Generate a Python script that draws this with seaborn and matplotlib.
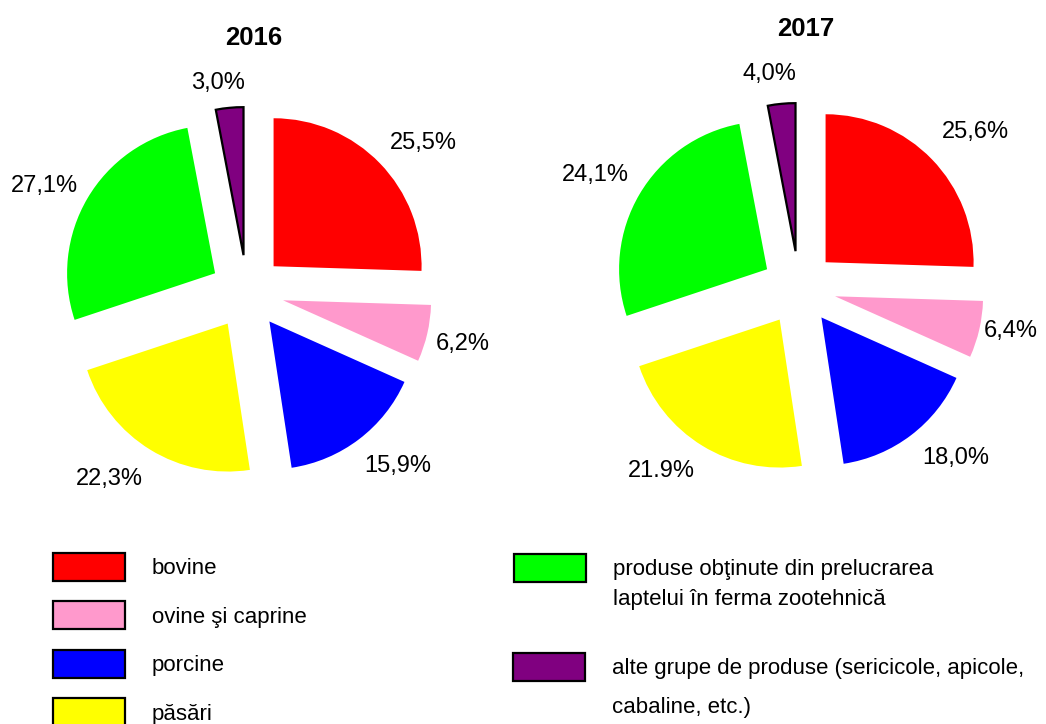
import numpy as np
import matplotlib
matplotlib.use("Agg")
import matplotlib.pyplot as plt
import seaborn as sns
from matplotlib.patches import Patch

# =========================
# Data
# =========================
categories = ["bovine", "ovine şi caprine", "porcine", "păsări",
              "produse obţinute din prelucrarea laptelui în ferma zootehnică",
              "alte grupe de produse (sericicole, apicole, cabaline, etc.)"]
values_2016 = [25.5, 6.2, 15.9, 22.3, 27.1, 3.0]
values_2017 = [25.6, 6.4, 18.0, 21.9, 24.1, 4.0]
labels_2016 = ["25,5%", "6,2%", "15,9%", "22,3%", "27,1%", "3,0%"]
labels_2017 = ["25,6%", "6,4%", "18,0%", "21.9%", "24,1%", "4,0%"]
years = ["2016", "2017"]

# wedge sizes as drawn in the 2017 pie of the original (read off the picture:
# the original reuses the 2016 shares for the slice geometry)
wedges_2017 = [25.5, 6.2, 15.9, 22.3, 27.1, 3.0]

colors = ["#FF0000", "#FF99CC", "#0000FF", "#FFFF00", "#00FF00", "#800080"]

# small label nudges (radius units), to follow the original placement
nudge_2016 = [(0.09, -0.06), (-0.03, -0.01), (0.09, 0.04), (-0.13, 0.04), (-0.05, -0.06), (-0.05, -0.11)]
nudge_2017 = [(0.095, -0.01), (-0.06, 0.05), (0.13, 0.07), (-0.13, 0.065), (-0.055, -0.01), (-0.055, -0.08)]

# =========================
# Style
# =========================
sns.set_theme(style="white")
plt.rcParams['font.family'] = ['Liberation Sans', 'DejaVu Sans']
plt.rcParams['text.color'] = 'black'

W, H = 1046, 724
fig = plt.figure(figsize=(W / 100, H / 100), dpi=100)

R = 148  # pie radius in px
LIM = 1.6
box = 2 * LIM * R


def pie_axes(cx, cy):
    return fig.add_axes([(cx - box / 2) / W, 1 - (cy + box / 2) / H, box / W, box / H])


def draw_pie(ax, vals, labs, nudges, year, title_pad):
    it = iter(labs)
    wedges, texts, autotexts = ax.pie(
        vals,
        colors=sns.color_palette(colors),
        startangle=90,
        counterclock=False,
        explode=[0.25] * len(vals),
        autopct=lambda p: next(it),
        pctdistance=1.28,
        wedgeprops=dict(linewidth=0),
        textprops=dict(fontsize=17, color="black"),
    )
    wedges[-1].set_edgecolor("black")
    wedges[-1].set_linewidth(1.6)
    for t, (dx, dy) in zip(autotexts, nudges):
        x, y = t.get_position()
        t.set_position((x + dx, y + dy))
    ax.set_xlim(-LIM, LIM)
    ax.set_ylim(-LIM, LIM)
    ax.set_aspect("equal")
    ax.set_axis_off()
    ax.set_title(year, fontsize=18.5, fontweight="bold", color="black", x=0.515, pad=title_pad)


ax1 = pie_axes(247, 292)
draw_pie(ax1, values_2016, labels_2016, nudge_2016, years[0], 7)

ax2 = pie_axes(799, 288)
draw_pie(ax2, wedges_2017, labels_2017, nudge_2017, years[1], 11)

# =========================
# Legend
# =========================
def patch(c):
    return Patch(facecolor=c, edgecolor="black", linewidth=1.6)


blank = Patch(facecolor="none", edgecolor="none")
leg_kw = dict(frameon=False, fontsize=16, handlelength=3.24, handleheight=1.56,
              handletextpad=1.2, borderpad=0, borderaxespad=0, loc="upper left",
              labelcolor="black")

fig.legend([patch(c) for c in colors[:4]], categories[:4],
           bbox_to_anchor=(53 / W, 1 - 553 / H), labelspacing=0.92, **leg_kw)

fig.legend([patch(colors[4]), blank],
           ["produse obţinute din prelucrarea", "laptelui în ferma zootehnică"],
           bbox_to_anchor=(514 / W, 1 - 554 / H), labelspacing=0.09, **leg_kw)

fig.legend([patch(colors[5]), blank],
           ["alte grupe de produse (sericicole, apicole,", "cabaline, etc.)"],
           bbox_to_anchor=(513 / W, 1 - 653 / H), labelspacing=0.5, **leg_kw)

plt.savefig("out.png", dpi=100)
